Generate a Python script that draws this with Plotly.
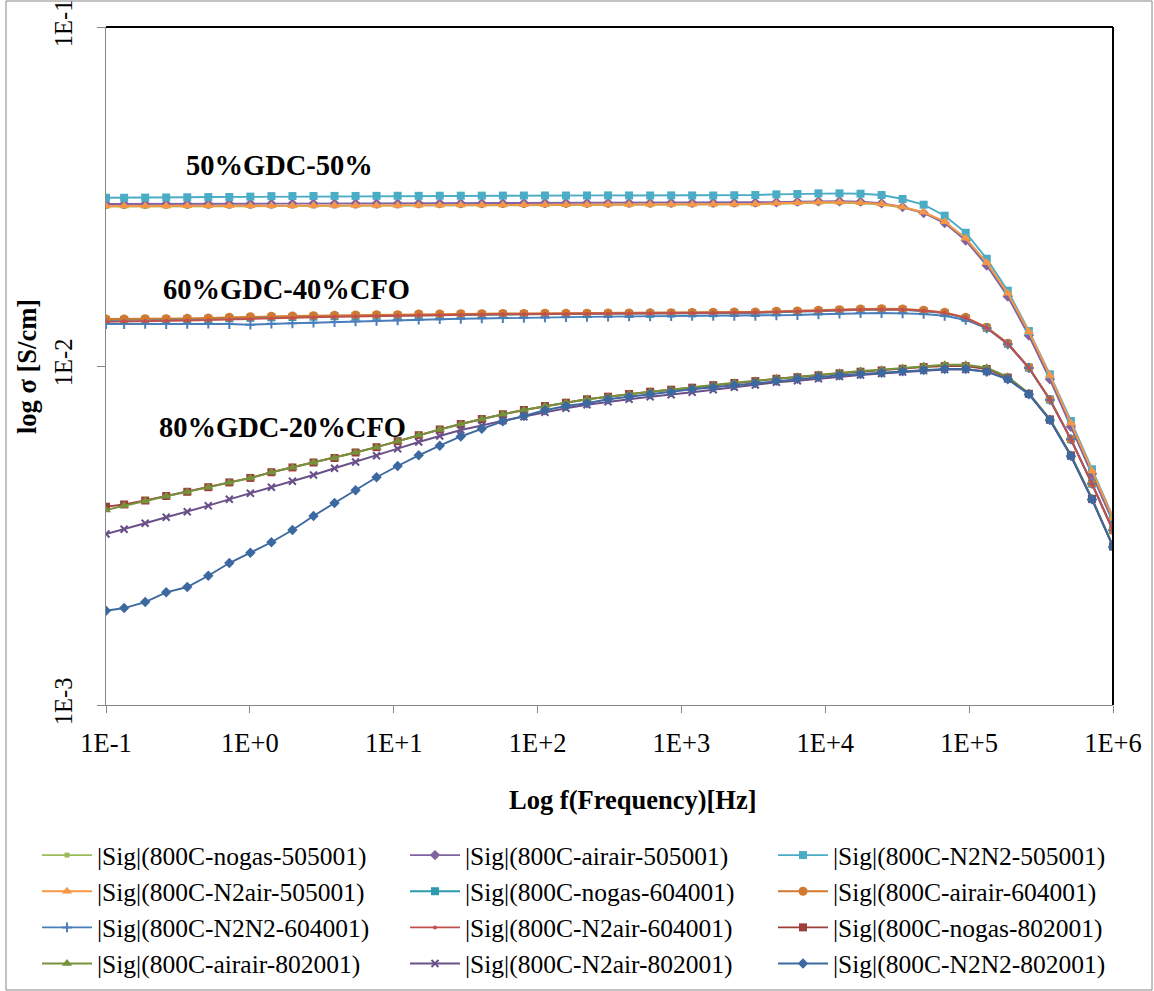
import plotly.graph_objects as go

# Frequency points (Hz)
freq = [0.1, 0.1337, 0.1872, 0.2621, 0.3671, 0.5141, 0.7199, 1.008, 1.412, 1.977,
        2.769, 3.878, 5.43, 7.60, 10.65, 14.92, 20.89, 29.25, 40.96, 57.36,
        80.33, 112.5, 157.5, 220.6, 309.0, 432.7, 606.0, 848.6, 1188, 1664,
        2331, 3264, 4571, 6401, 8963, 12552, 17578, 24617, 34473, 48276,
        67606, 94675, 132583, 185669, 260011, 364119, 509913, 714082, 1000000]

# |Sig| (S/cm) for each sample
sig_nogas_505001 = [0.02955, 0.02954, 0.02956, 0.02958, 0.02958, 0.02960, 0.02961, 0.02960, 0.02962, 0.02963,
                    0.02964, 0.02965, 0.02966, 0.02967, 0.02968, 0.02972, 0.02974, 0.02975, 0.02977, 0.02978,
                    0.02980, 0.02982, 0.02983, 0.02984, 0.02985, 0.02986, 0.02986, 0.02987, 0.02988, 0.02990,
                    0.02992, 0.02998, 0.03010, 0.03022, 0.03030, 0.03030, 0.03022, 0.02995, 0.02935, 0.02832,
                    0.02652, 0.02365, 0.01998, 0.01622, 0.01245, 0.009260, 0.006700, 0.004850, 0.003510]
sig_airair_505001 = [0.03006, 0.03005, 0.03007, 0.03008, 0.03008, 0.03010, 0.03011, 0.03010, 0.03012, 0.03013,
                     0.03014, 0.03015, 0.03015, 0.03016, 0.03017, 0.03019, 0.03020, 0.03021, 0.03022, 0.03023,
                     0.03024, 0.03025, 0.03026, 0.03026, 0.03027, 0.03028, 0.03028, 0.03029, 0.03030, 0.03032,
                     0.03033, 0.03034, 0.03041, 0.03054, 0.03061, 0.03061, 0.03054, 0.03020, 0.02944, 0.02827,
                     0.02641, 0.02345, 0.01979, 0.01603, 0.01230, 0.009138, 0.006619, 0.004802, 0.003465]
sig_N2N2_505001 = [0.03137, 0.03136, 0.03138, 0.03142, 0.03145, 0.03150, 0.03152, 0.03160, 0.03170, 0.03172,
                   0.03173, 0.03175, 0.03174, 0.03176, 0.03178, 0.03177, 0.03179, 0.03180, 0.03181, 0.03182,
                   0.03183, 0.03184, 0.03183, 0.03185, 0.03186, 0.03185, 0.03184, 0.03186, 0.03185, 0.03184,
                   0.03189, 0.03194, 0.03209, 0.03216, 0.03231, 0.03231, 0.03223, 0.03194, 0.03109, 0.02991,
                   0.02776, 0.02472, 0.02072, 0.01668, 0.01268, 0.009451, 0.006883, 0.004958, 0.003585]
sig_N2air_505001 = [0.02965, 0.02964, 0.02966, 0.02967, 0.02968, 0.02969, 0.02970, 0.02970, 0.02971, 0.02972,
                    0.02973, 0.02974, 0.02975, 0.02976, 0.02977, 0.02980, 0.02982, 0.02983, 0.02985, 0.02986,
                    0.02988, 0.02990, 0.02991, 0.02992, 0.02993, 0.02994, 0.02995, 0.02996, 0.02997, 0.02999,
                    0.03000, 0.03006, 0.03020, 0.03033, 0.03041, 0.03041, 0.03033, 0.03006, 0.02944, 0.02841,
                    0.02665, 0.02381, 0.02017, 0.01639, 0.01262, 0.009388, 0.006789, 0.004901, 0.003560]
sig_nogas_604001 = [0.01366, 0.01367, 0.01369, 0.01370, 0.01373, 0.01376, 0.01382, 0.01387, 0.01392, 0.01395,
                    0.01398, 0.01402, 0.01405, 0.01407, 0.01408, 0.01415, 0.01415, 0.01417, 0.01418, 0.01420,
                    0.01420, 0.01422, 0.01422, 0.01423, 0.01424, 0.01424, 0.01426, 0.01427, 0.01429, 0.01431,
                    0.01434, 0.01434, 0.01441, 0.01444, 0.01451, 0.01457, 0.01464, 0.01467, 0.01464, 0.01451,
                    0.01432, 0.01385, 0.01296, 0.01163, 0.009890, 0.007960, 0.006080, 0.004500, 0.003280]
sig_airair_604001 = [0.01376, 0.01376, 0.01378, 0.01379, 0.01382, 0.01385, 0.01392, 0.01397, 0.01401, 0.01404,
                     0.01407, 0.01411, 0.01414, 0.01416, 0.01417, 0.01424, 0.01424, 0.01426, 0.01427, 0.01429,
                     0.01429, 0.01431, 0.01431, 0.01432, 0.01433, 0.01433, 0.01435, 0.01436, 0.01438, 0.01440,
                     0.01443, 0.01443, 0.01450, 0.01453, 0.01460, 0.01466, 0.01473, 0.01476, 0.01473, 0.01460,
                     0.01440, 0.01392, 0.01301, 0.01167, 0.009913, 0.007970, 0.006078, 0.004496, 0.003276]
sig_N2N2_604001 = [0.01330, 0.01330, 0.01331, 0.01330, 0.01331, 0.01333, 0.01330, 0.01324, 0.01333, 0.01337,
                   0.01342, 0.01348, 0.01355, 0.01360, 0.01364, 0.01370, 0.01374, 0.01378, 0.01382, 0.01385,
                   0.01388, 0.01391, 0.01394, 0.01396, 0.01398, 0.01400, 0.01402, 0.01404, 0.01405, 0.01407,
                   0.01407, 0.01407, 0.01411, 0.01414, 0.01421, 0.01427, 0.01433, 0.01433, 0.01430, 0.01424,
                   0.01407, 0.01367, 0.01292, 0.01159, 0.009865, 0.007940, 0.006078, 0.004496, 0.003276]
sig_N2air_604001 = [0.01351, 0.01352, 0.01355, 0.01358, 0.01362, 0.01366, 0.01370, 0.01373, 0.01380, 0.01386,
                    0.01392, 0.01397, 0.01401, 0.01405, 0.01407, 0.01414, 0.01415, 0.01417, 0.01419, 0.01421,
                    0.01422, 0.01424, 0.01424, 0.01425, 0.01426, 0.01427, 0.01428, 0.01430, 0.01432, 0.01434,
                    0.01437, 0.01438, 0.01444, 0.01448, 0.01455, 0.01461, 0.01468, 0.01471, 0.01468, 0.01456,
                    0.01435, 0.01387, 0.01297, 0.01163, 0.009880, 0.007960, 0.006070, 0.004490, 0.003270]
sig_nogas_802001 = [0.003846, 0.003905, 0.004010, 0.004135, 0.004255, 0.004390, 0.004535, 0.004675, 0.004860, 0.005020,
                    0.005192, 0.005354, 0.005557, 0.005761, 0.006001, 0.006250, 0.006497, 0.006744, 0.006977, 0.007204,
                    0.007417, 0.007621, 0.007794, 0.007976, 0.008118, 0.008268, 0.008399, 0.008513, 0.008630, 0.008780,
                    0.008910, 0.009025, 0.009170, 0.009265, 0.009390, 0.009515, 0.009620, 0.009705, 0.009810, 0.009930,
                    0.009990, 0.009990, 0.009800, 0.009250, 0.008280, 0.006960, 0.005450, 0.004055, 0.002938]
sig_airair_802001 = [0.003761, 0.003878, 0.003998, 0.004127, 0.004250, 0.004387, 0.004533, 0.004673, 0.004858, 0.005019,
                     0.005192, 0.005354, 0.005557, 0.005761, 0.006001, 0.006250, 0.006497, 0.006744, 0.006977, 0.007204,
                     0.007417, 0.007621, 0.007794, 0.007976, 0.008118, 0.008268, 0.008399, 0.008513, 0.008630, 0.008790,
                     0.008928, 0.009050, 0.009199, 0.009299, 0.009426, 0.009555, 0.009666, 0.009752, 0.009865, 0.01000,
                     0.01009, 0.01009, 0.009885, 0.009299, 0.008308, 0.006977, 0.005464, 0.004066, 0.002945]
sig_N2air_802001 = [0.003195, 0.003299, 0.003436, 0.003579, 0.003718, 0.003872, 0.004044, 0.004212, 0.004387, 0.004570,
                    0.004770, 0.004992, 0.005210, 0.005438, 0.005703, 0.005968, 0.006217, 0.006475, 0.006676, 0.006897,
                    0.007087, 0.007302, 0.007503, 0.007689, 0.007847, 0.007976, 0.008118, 0.008229, 0.008365, 0.008513,
                    0.008653, 0.008790, 0.008952, 0.009050, 0.009174, 0.009312, 0.009407, 0.009504, 0.009601, 0.009699,
                    0.009765, 0.009765, 0.009633, 0.009155, 0.008268, 0.006930, 0.005427, 0.004044, 0.002931]
sig_N2N2_802001 = [0.001897, 0.001932, 0.002012, 0.002150, 0.002229, 0.002406, 0.002623, 0.002814, 0.003020, 0.003283,
                   0.003611, 0.003944, 0.004299, 0.004696, 0.005070, 0.005453, 0.005820, 0.006195, 0.006528, 0.006869,
                   0.007121, 0.007402, 0.007621, 0.007762, 0.007976, 0.008118, 0.008252, 0.008381, 0.008537, 0.008653,
                   0.008772, 0.008910, 0.009050, 0.009174, 0.009280, 0.009388, 0.009471, 0.009555, 0.009647, 0.009732,
                   0.009798, 0.009798, 0.009620, 0.009137, 0.008252, 0.006930, 0.005427, 0.004044, 0.002931]

names = ["|Sig|(800C-nogas-505001)", "|Sig|(800C-airair-505001)", "|Sig|(800C-N2N2-505001)",
         "|Sig|(800C-N2air-505001)", "|Sig|(800C-nogas-604001)", "|Sig|(800C-airair-604001)",
         "|Sig|(800C-N2N2-604001)", "|Sig|(800C-N2air-604001)", "|Sig|(800C-nogas-802001)",
         "|Sig|(800C-airair-802001)", "|Sig|(800C-N2air-802001)", "|Sig|(800C-N2N2-802001)"]
values = [sig_nogas_505001, sig_airair_505001, sig_N2N2_505001, sig_N2air_505001,
          sig_nogas_604001, sig_airair_604001, sig_N2N2_604001, sig_N2air_604001,
          sig_nogas_802001, sig_airair_802001, sig_N2air_802001, sig_N2N2_802001]
colors = ["#9BBB59", "#8064A2", "#4BACC6", "#F79646", "#2E9AAE", "#D2792F",
          "#4A7EBB", "#C0504D", "#9C3F3B", "#76923C", "#6A5088", "#3C69A0"]
symbols = ["square", "diamond", "square", "triangle-up", "square", "circle",
           "cross-thin", "circle", "square", "triangle-up", "x-thin", "diamond"]
sizes = [5, 8, 8, 9, 8, 9, 7, 4, 8, 9, 7, 8]
legend_ids = ["legend", "legend2", "legend3"]  # three legend columns, filled row by row

FONT = "Liberation Serif"

fig = go.Figure()
for i, (name, vals, col, sym, sz) in enumerate(zip(names, values, colors, symbols, sizes)):
    thin = sym.endswith("-thin")
    fig.add_trace(go.Scatter(
        x=freq, y=vals, name=name, mode="lines+markers",
        legend=legend_ids[i % 3],
        line=dict(color=col, width=1.9),
        marker=dict(symbol=sym, size=sz, color=col,
                    line=dict(color=col, width=2 if thin else 0)),
    ))

# plot area: x 106..1113, y 27..705
L, R, T, B = 106, 1113, 27, 705
W, H = R - L, B - T

def px(x):
    return (x - L) / W

def py(y):
    return (B - y) / H

def legend_col(xpix):
    return dict(
        orientation="v", x=px(xpix), y=py(832), xanchor="left", yanchor="top",
        itemwidth=50, font=dict(family=FONT, size=25.5, color="black"),
        traceorder="normal", bgcolor="rgba(0,0,0,0)", tracegroupgap=0,
    )

fig.update_layout(
    width=1154, height=991,
    margin=dict(l=L, r=1154 - R, t=T, b=991 - B, autoexpand=False),
    paper_bgcolor="white", plot_bgcolor="white",
    font=dict(family=FONT, size=26.5, color="black"),
    showlegend=True,
    legend=legend_col(37),
    legend2=legend_col(405),
    legend3=legend_col(773),
    xaxis=dict(
        type="log", range=[-1, 6], showgrid=False, zeroline=False,
        showline=True, linecolor="#868686", linewidth=1,
        ticks="outside", ticklen=7, tickcolor="#868686",
        tickvals=[0.1, 1, 10, 100, 1000, 10000, 100000, 1000000],
        ticktext=["1E-1", "1E+0", "1E+1", "1E+2", "1E+3", "1E+4", "1E+5", "1E+6"],
        ticklabelstandoff=7, ticklabeloverflow="allow",
        tickfont=dict(family=FONT, size=26.5, color="black"),
    ),
    yaxis=dict(
        type="log", range=[-3, -1], showgrid=False, zeroline=False,
        showline=True, linecolor="#868686", linewidth=1,
        ticks="outside", ticklen=8, tickcolor="#868686",
        tickvals=[0.001, 0.01, 0.1], ticktext=["1E-3", "1E-2", "1E-1"],
        tickangle=-90, ticklabelstandoff=15, ticklabeloverflow="allow",
        tickfont=dict(family=FONT, size=24.5, color="black"),
    ),
    shapes=[
        dict(type="line", xref="paper", yref="paper", x0=0, x1=1, y0=1, y1=1,
             line=dict(color="black", width=2)),
        dict(type="line", xref="paper", yref="paper", x0=1, x1=1, y0=0, y1=1,
             line=dict(color="black", width=2)),
        dict(type="rect", xref="paper", yref="paper",
             x0=px(6), x1=px(1152), y0=py(990), y1=py(1),
             line=dict(color="#868686", width=1)),
    ],
    annotations=[
        dict(text="<b>50%GDC-50%</b>", xref="paper", yref="paper", x=px(184), y=py(165),
             xanchor="left", yanchor="middle", showarrow=False, font=dict(family=FONT, size=28.5)),
        dict(text="<b>60%GDC-40%CFO</b>", xref="paper", yref="paper", x=px(161), y=py(289),
             xanchor="left", yanchor="middle", showarrow=False, font=dict(family=FONT, size=28.5)),
        dict(text="<b>80%GDC-20%CFO</b>", xref="paper", yref="paper", x=px(157), y=py(427),
             xanchor="left", yanchor="middle", showarrow=False, font=dict(family=FONT, size=28.5)),
        dict(text="<b>Log f(Frequency)[Hz]</b>", xref="paper", yref="paper", x=px(633), y=py(800),
             xanchor="center", yanchor="middle", showarrow=False, font=dict(family=FONT, size=26.5)),
        dict(text="<b>log σ [S/cm]</b>", xref="paper", yref="paper", x=px(27), y=py(367),
             xanchor="center", yanchor="middle", textangle=-90, showarrow=False,
             font=dict(family=FONT, size=26.5)),
    ],
)

fig.write_html("out.html", config={"displayModeBar": False},
               post_script="document.body.style.margin='0';")
